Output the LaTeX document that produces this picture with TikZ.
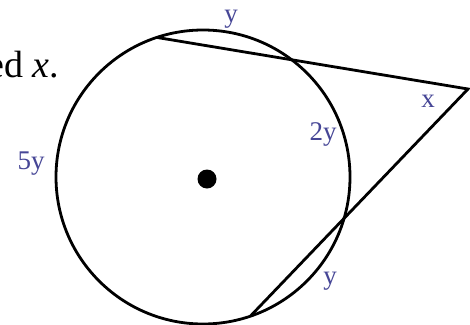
\documentclass[tikz,border=0pt]{standalone}
\usepackage{fontspec}
\setmainfont{Liberation Serif}
\usetikzlibrary{calc}
\definecolor{lblue}{RGB}{70,70,150}
\begin{document}
\begin{tikzpicture}[x=1pt,y=-1pt,
  geo/.style={line width=2.8pt, black},
  lbl/.style={text=lblue, inner sep=0pt, font=\fontsize{27}{30}\selectfont},
  big/.style={inner sep=0pt, anchor=base west, font=\fontsize{38}{44}\selectfont}]
\useasboundingbox (0,0) rectangle (470,324);
\coordinate (C) at (203,177);
\coordinate (A) at ($(C)+(-108.3:147)$);
\coordinate (D) at ($(C)+(71.2:147)$);
\coordinate (P) at (468,89);
\draw[geo] (C) circle (147);
\draw[geo, line join=miter] (A) -- (P) -- (D);
\fill (207,179) circle (9.5);
\node[big] (t) at (-13,77) {ed \textit{x}.};
\node[lbl] (ly1) at (231,19) {y};
\node[lbl] (l2y) at (323,134) {2y};
\node[lbl] (lx) at (428,101) {x};
\node[lbl] (l5y) at (31,164) {5y};
\node[lbl] (ly2) at (330,281) {y};
\end{tikzpicture}
\end{document}
